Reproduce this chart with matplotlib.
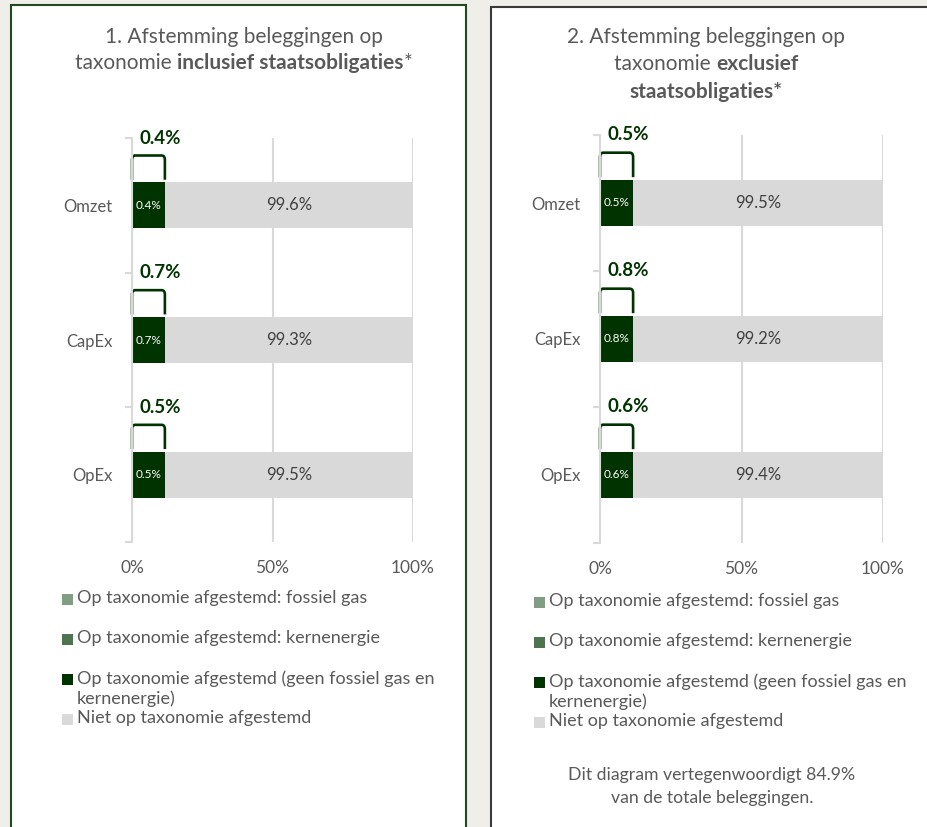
import matplotlib.pyplot as plt
import matplotlib.patches as mpatches
from matplotlib.path import Path
import numpy as np

plt.rcParams['font.family'] = ['Lato', 'DejaVu Sans']

# Data
categories = ['Omzet', 'CapEx', 'OpEx']
series_names = ['Op taxonomie afgestemd: fossiel gas',
                'Op taxonomie afgestemd: kernenergie',
                'Op taxonomie afgestemd (geen fossiel gas en\nkernenergie)',
                'Niet op taxonomie afgestemd']
incl_fossil = [0.0, 0.0, 0.0]
incl_kern = [0.0, 0.0, 0.0]
incl_aligned = [0.4, 0.7, 0.5]
incl_not = [99.6, 99.3, 99.5]
excl_fossil = [0.0, 0.0, 0.0]
excl_kern = [0.0, 0.0, 0.0]
excl_aligned = [0.5, 0.8, 0.6]
excl_not = [99.5, 99.2, 99.4]

colors = ['#819E82', '#4E744F', '#003300', '#D9D9D9']
GREEN = '#003300'
GREY_TXT = '#595959'
MIN_VIS = 11.7   # small segments are stretched so the label fits (like the original)

W, H = 927, 827
fig = plt.figure(figsize=(W / 100, H / 100), dpi=100, facecolor='#EFEEE9')


def fx(px):
    return px / W


def fy(py):
    return 1 - py / H


# panel boxes (behind the axes)
fig.patches.append(mpatches.Rectangle((fx(11), fy(840)), fx(455), (840 - 5) / H,
                                      transform=fig.transFigure, facecolor='white',
                                      edgecolor='#1F4A22', linewidth=1.5, zorder=-5))
fig.patches.append(mpatches.Rectangle((fx(491), fy(840)), fx(460), (840 - 7) / H,
                                      transform=fig.transFigure, facecolor='white',
                                      edgecolor='#3A3A3A', linewidth=1.5, zorder=-5))


def mixed_line(xc, y, parts, size):
    texts = []
    for s, wgt in parts:
        texts.append(fig.text(0, fy(y), s, fontsize=size, fontweight=wgt,
                              color=GREY_TXT, ha='left', va='center'))
    r = fig.canvas.get_renderer()
    widths = [t.get_window_extent(r).width for t in texts]
    x = xc - sum(widths) / 2
    for t, wd in zip(texts, widths):
        t.set_x(fx(x))
        x += wd


def bracket(ax, x0, x1, ytop, ybot):
    rx = (x1 - x0) * 0.1
    ry = (ybot - ytop) * 0.18
    verts = [(x0, ybot), (x0, ytop + ry), (x0, ytop), (x0 + rx, ytop),
             (x1 - rx, ytop), (x1, ytop), (x1, ytop + ry), (x1, ybot)]
    codes = [Path.MOVETO, Path.LINETO, Path.CURVE3, Path.CURVE3,
             Path.LINETO, Path.CURVE3, Path.CURVE3, Path.LINETO]
    ax.add_patch(mpatches.PathPatch(Path(verts, codes), facecolor='none',
                                    edgecolor=GREEN, linewidth=1.9,
                                    capstyle='butt', clip_on=False))


def draw_panel(rect, fossil, kern, aligned, notal):
    ax = fig.add_axes(rect)
    ax.patch.set_alpha(0)
    y = np.arange(len(categories))
    disp = np.maximum(np.array(aligned), MIN_VIS)
    ax.barh(y, fossil, height=0.34, color=colors[0])
    ax.barh(y, kern, left=fossil, height=0.34, color=colors[1])
    ax.barh(y, disp, height=0.34, color=colors[2])
    ax.barh(y, np.array(notal) - (disp - np.array(aligned)), left=disp,
            height=0.34, color=colors[3])
    for i in y:
        ax.text(disp[i] / 2, i, f'{aligned[i]:.1f}%', color='white', fontsize=8.5,
                ha='center', va='center')
        ax.text(disp[i] + (100 - disp[i]) / 2, i, f'{notal[i]:.1f}%', color='#404040',
                fontsize=12, ha='center', va='center')
        bracket(ax, 0, disp[i], i - 0.37, i - 0.19)
        ax.text(2.8, i - 0.5, f'{aligned[i]:.1f}%', color=GREEN, fontsize=13.5,
                fontweight='bold', ha='left', va='center')
    ax.set_xlim(0, 100)
    ax.set_ylim(len(categories) - 0.5, -0.5)
    ax.set_xticks([0, 50, 100])
    ax.set_xticklabels(['0%', '50%', '100%'], fontsize=12.5, color=GREY_TXT)
    ax.set_yticks(y)
    ax.set_yticklabels(categories, fontsize=12, color=GREY_TXT)
    ax.set_yticks(np.arange(len(categories) + 1) - 0.5, minor=True)
    ax.tick_params(axis='y', which='major', length=0, pad=14)
    ax.tick_params(axis='y', which='minor', length=5, color='#D9D9D9', width=1.5)
    ax.tick_params(axis='x', length=0, pad=13)
    ax.grid(axis='x', color='#D9D9D9', linewidth=1.5)
    ax.set_axisbelow(True)
    for s in ['top', 'right', 'bottom']:
        ax.spines[s].set_visible(False)
    ax.spines['left'].set_color('#D9D9D9')
    ax.spines['left'].set_linewidth(1.5)
    return ax


draw_panel([fx(132), fy(542), fx(281), 404 / H], incl_fossil, incl_kern, incl_aligned, incl_not)
draw_panel([fx(600), fy(543), fx(283), 408 / H], excl_fossil, excl_kern, excl_aligned, excl_not)

# titles
mixed_line(244, 37, [('1. Afstemming beleggingen op', 'normal')], 15)
mixed_line(244, 63, [('taxonomie ', 'normal'), ('inclusief staatsobligaties', 'bold'),
                     ('*', 'normal')], 15)
mixed_line(706, 37, [('2. Afstemming beleggingen op', 'normal')], 15)
mixed_line(706, 64, [('taxonomie ', 'normal'), ('exclusief', 'bold')], 15)
mixed_line(706, 92, [('staatsobligaties*', 'bold')], 15)


def legend(x0, ys):
    for name, c, yy in zip(series_names, colors, ys):
        fig.patches.append(mpatches.Rectangle((fx(x0), fy(yy + 5.5)), fx(11), 11 / H,
                                              transform=fig.transFigure,
                                              facecolor=c, edgecolor='none'))
        fig.text(fx(x0 + 15), fy(yy - 9), name, fontsize=13, color=GREY_TXT,
                 ha='left', va='top', linespacing=1.3)


legend(62, [599, 639, 679, 719])
legend(534, [602, 642, 682, 722])

fig.text(fx(712), fy(775), 'Dit diagram vertegenwoordigt 84.9%', fontsize=12.7,
         color=GREY_TXT, ha='center', va='center')
fig.text(fx(712), fy(798), 'van de totale beleggingen.', fontsize=12.7,
         color=GREY_TXT, ha='center', va='center')

fig.savefig('out.png', dpi=100, facecolor=fig.get_facecolor())
